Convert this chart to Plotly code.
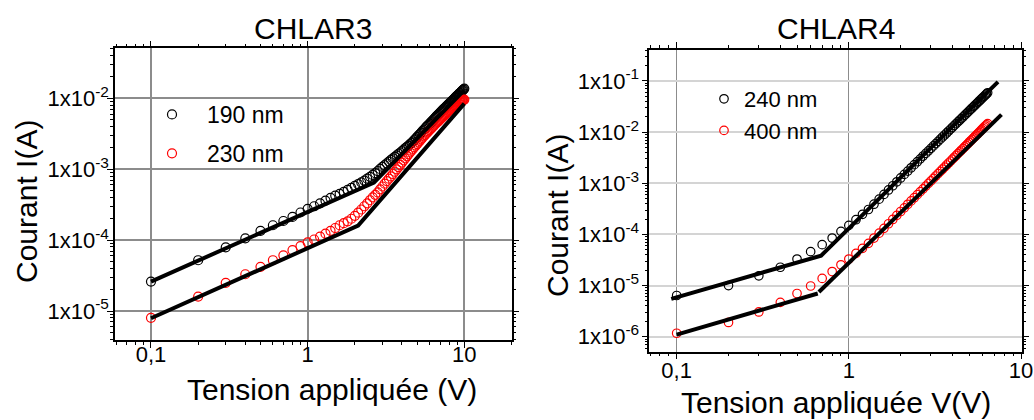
import math
import plotly.graph_objects as go

# ---------------- data ----------------
# CHLAR3
v3 = [round(0.1 * i, 1) for i in range(1, 101)]
i3_190 = [2.6e-5, 5.2e-5, 7.9e-5, 1.06e-4, 1.35e-4, 1.62e-4, 1.86e-4, 2.12e-4, 2.45e-4, 2.75e-4,
          3.0e-4, 3.3e-4, 3.6e-4, 3.95e-4, 4.25e-4, 4.5e-4, 4.8e-4, 5.1e-4, 5.45e-4, 5.8e-4,
          6.15e-4, 6.5e-4, 6.9e-4, 7.35e-4, 7.8e-4, 8.3e-4, 8.8e-4, 9.4e-4, 1.01e-3, 1.08e-3,
          1.14e-3, 1.21e-3, 1.28e-3, 1.35e-3, 1.42e-3, 1.49e-3, 1.57e-3, 1.65e-3, 1.72e-3, 1.8e-3,
          1.89e-3, 1.98e-3, 2.06e-3, 2.15e-3, 2.25e-3, 2.36e-3, 2.47e-3, 2.6e-3, 2.72e-3, 2.85e-3,
          2.99e-3, 3.13e-3, 3.28e-3, 3.44e-3, 3.6e-3, 3.75e-3, 3.91e-3, 4.07e-3, 4.23e-3, 4.4e-3,
          4.57e-3, 4.74e-3, 4.92e-3, 5.1e-3, 5.3e-3, 5.5e-3, 5.7e-3, 5.9e-3, 6.1e-3, 6.3e-3,
          6.5e-3, 6.7e-3, 6.9e-3, 7.1e-3, 7.3e-3, 7.5e-3, 7.75e-3, 7.95e-3, 8.2e-3, 8.4e-3,
          8.65e-3, 8.9e-3, 9.1e-3, 9.35e-3, 9.6e-3, 9.85e-3, 1.01e-2, 1.04e-2, 1.065e-2, 1.09e-2,
          1.12e-2, 1.14e-2, 1.17e-2, 1.19e-2, 1.22e-2, 1.25e-2, 1.28e-2, 1.31e-2, 1.34e-2, 1.37e-2]
i3_230 = [8.0e-6, 1.6e-5, 2.5e-5, 3.3e-5, 4.2e-5, 5.2e-5, 6.1e-5, 7.2e-5, 8.2e-5, 9.3e-5,
          1.02e-4, 1.12e-4, 1.23e-4, 1.35e-4, 1.48e-4, 1.62e-4, 1.73e-4, 1.84e-4, 2.0e-4, 2.2e-4,
          2.44e-4, 2.7e-4, 3.0e-4, 3.3e-4, 3.65e-4, 4.0e-4, 4.35e-4, 4.7e-4, 5.2e-4, 5.7e-4,
          6.25e-4, 6.8e-4, 7.35e-4, 7.9e-4, 8.55e-4, 9.2e-4, 9.95e-4, 1.07e-3, 1.15e-3, 1.24e-3,
          1.33e-3, 1.42e-3, 1.52e-3, 1.62e-3, 1.72e-3, 1.82e-3, 1.93e-3, 2.04e-3, 2.15e-3, 2.26e-3,
          2.38e-3, 2.51e-3, 2.63e-3, 2.77e-3, 2.9e-3, 3.03e-3, 3.16e-3, 3.29e-3, 3.42e-3, 3.55e-3,
          3.69e-3, 3.83e-3, 3.97e-3, 4.12e-3, 4.27e-3, 4.41e-3, 4.56e-3, 4.7e-3, 4.85e-3, 5.0e-3,
          5.16e-3, 5.32e-3, 5.48e-3, 5.64e-3, 5.8e-3, 5.98e-3, 6.16e-3, 6.34e-3, 6.52e-3, 6.7e-3,
          6.88e-3, 7.06e-3, 7.24e-3, 7.42e-3, 7.6e-3, 7.76e-3, 7.92e-3, 8.08e-3, 8.24e-3, 8.4e-3,
          8.52e-3, 8.64e-3, 8.76e-3, 8.88e-3, 9.0e-3, 9.12e-3, 9.24e-3, 9.36e-3, 9.48e-3, 9.6e-3]
fit3_190_v = [0.1, 2.65, 10]
fit3_190_i = [2.6e-5, 6.5e-4, 1.3e-2]
fit3_230_v = [0.1, 2.1, 10]
fit3_230_i = [7.9e-6, 1.6e-4, 8.4e-3]

# CHLAR4
v4 = [round(0.1 * i, 1) for i in range(1, 65)]
i4_240 = [6.4e-6, 1.0e-5, 1.55e-5, 2.28e-5, 3.3e-5, 4.6e-5, 6.3e-5, 8.5e-5, 1.15e-4, 1.5e-4,
          1.94e-4, 2.47e-4, 3.07e-4, 3.9e-4, 4.9e-4, 6.06e-4, 7.4e-4, 8.94e-4, 1.07e-3, 1.27e-3,
          1.49e-3, 1.73e-3, 2.01e-3, 2.31e-3, 2.64e-3, 3.01e-3, 3.41e-3, 3.84e-3, 4.31e-3, 4.82e-3,
          5.38e-3, 5.97e-3, 6.61e-3, 7.3e-3, 8.03e-3, 8.8e-3, 9.64e-3, 1.053e-2, 1.147e-2, 1.247e-2,
          1.352e-2, 1.464e-2, 1.583e-2, 1.708e-2, 1.839e-2, 1.978e-2, 2.123e-2, 2.275e-2, 2.436e-2, 2.604e-2,
          2.78e-2, 2.963e-2, 3.155e-2, 3.357e-2, 3.566e-2, 3.784e-2, 4.012e-2, 4.247e-2, 4.497e-2, 4.753e-2,
          5.016e-2, 5.294e-2, 5.58e-2, 5.881e-2]
i4_400 = [1.17e-6, 1.9e-6, 3.05e-6, 4.7e-6, 7.0e-6, 9.8e-6, 1.38e-5, 1.88e-5, 2.55e-5, 3.3e-5,
          4.25e-5, 5.35e-5, 6.7e-5, 8.5e-5, 1.06e-4, 1.315e-4, 1.616e-4, 1.963e-4, 2.36e-4, 2.808e-4,
          3.315e-4, 3.884e-4, 4.516e-4, 5.22e-4, 5.995e-4, 6.855e-4, 7.792e-4, 8.82e-4, 9.94e-4, 1.114e-3,
          1.247e-3, 1.388e-3, 1.541e-3, 1.706e-3, 1.883e-3, 2.072e-3, 2.275e-3, 2.49e-3, 2.72e-3, 2.965e-3,
          3.225e-3, 3.499e-3, 3.792e-3, 4.101e-3, 4.424e-3, 4.77e-3, 5.13e-3, 5.51e-3, 5.91e-3, 6.33e-3,
          6.77e-3, 7.23e-3, 7.72e-3, 8.23e-3, 8.76e-3, 9.31e-3, 9.89e-3, 1.049e-2, 1.112e-2, 1.177e-2,
          1.245e-2, 1.316e-2, 1.389e-2, 1.466e-2]
fit4_240_v = [0.093, 0.69, 7.35]
fit4_240_i = [5.5e-6, 3.85e-5, 9.6e-2]
fit4_400a_v = [0.1, 0.66]
fit4_400a_i = [1.1e-6, 7.0e-6]
fit4_400b_v = [0.67, 7.7]
fit4_400b_i = [7.5e-6, 2.2e-2]

x_tickvals = [0.1, 1, 10]
x_ticktext = ["0,1", "1", "10"]
y3_tickvals = [1e-5, 1e-4, 1e-3, 1e-2]
y4_tickvals = [1e-6, 1e-5, 1e-4, 1e-3, 1e-2, 1e-1]

# ---------------- figure ----------------
W, H = 1034, 420
FONT = "Liberation Sans, Arial, sans-serif"


def px_x(p):
    return p / W


def px_y(p):
    return 1 - p / H


def sup_labels(vals):
    return ["1x10<sup>%d</sup>" % int(round(math.log10(v))) for v in vals]


def minor_vals(lo, hi):
    return [m * 10.0 ** e for e in range(lo, hi) for m in range(2, 10)]


fig = go.Figure()

# CHLAR3
fig.add_trace(go.Scatter(x=v3, y=i3_190, mode="markers", name="190 nm",
                         marker=dict(symbol="circle-open", size=9, color="black", line=dict(width=1.2)),
                         xaxis="x", yaxis="y", legend="legend", legendgroup="a"))
fig.add_trace(go.Scatter(x=v3, y=i3_230, mode="markers", name="230 nm",
                         marker=dict(symbol="circle-open", size=9, color="red", line=dict(width=1.2)),
                         xaxis="x", yaxis="y", legend="legend", legendgroup="b"))
fig.add_trace(go.Scatter(x=fit3_190_v, y=fit3_190_i, mode="lines", showlegend=False,
                         line=dict(color="black", width=4), xaxis="x", yaxis="y"))
fig.add_trace(go.Scatter(x=fit3_230_v, y=fit3_230_i, mode="lines", showlegend=False,
                         line=dict(color="black", width=4), xaxis="x", yaxis="y"))

# CHLAR4
fig.add_trace(go.Scatter(x=v4, y=i4_240, mode="markers", name="240 nm",
                         marker=dict(symbol="circle-open", size=8.5, color="black", line=dict(width=1.2)),
                         xaxis="x2", yaxis="y2", legend="legend2"))
fig.add_trace(go.Scatter(x=v4, y=i4_400, mode="markers", name="400 nm",
                         marker=dict(symbol="circle-open", size=8.5, color="red", line=dict(width=1.2)),
                         xaxis="x2", yaxis="y2", legend="legend2"))
for vv, ii in [(fit4_240_v, fit4_240_i), (fit4_400a_v, fit4_400a_i), (fit4_400b_v, fit4_400b_i)]:
    fig.add_trace(go.Scatter(x=vv, y=ii, mode="lines", showlegend=False,
                             line=dict(color="black", width=4), xaxis="x2", yaxis="y2"))

tickfont = dict(family=FONT, size=22, color="black")
common = dict(type="log", showline=True, linecolor="black", linewidth=1.5, mirror="allticks",
              ticks="outside", ticklen=6, tickwidth=1.3, tickcolor="black", tickfont=tickfont,
              zeroline=False, automargin=False, tickmode="array")

fig.update_layout(
    template="none",
    width=W, height=H, margin=dict(l=0, r=0, t=0, b=0, pad=0, autoexpand=False),
    paper_bgcolor="white", plot_bgcolor="white",
    font=dict(family=FONT, color="black"),
    xaxis=dict(domain=[px_x(115), px_x(511.7)], anchor="y", range=[-1.2297, 1.3025],
               tickvals=x_tickvals, ticktext=x_ticktext,
               showgrid=True, gridcolor="#8c8c8c", gridwidth=1.5,
               minor=dict(tickmode="array", tickvals=minor_vals(-2, 2), ticks="outside",
                          ticklen=3, tickcolor="black", showgrid=False),
               ticklabelstandoff=-12, **common),
    yaxis=dict(domain=[px_y(340), px_y(48.3)], anchor="x", range=[-5.409, -1.295],
               tickvals=y3_tickvals, ticktext=sup_labels(y3_tickvals),
               showgrid=True, gridcolor="#8c8c8c", gridwidth=1.5,
               minor=dict(tickmode="array", tickvals=minor_vals(-6, -1), ticks="outside",
                          ticklen=3, tickcolor="black", showgrid=False),
               ticklabelstandoff=-6, **common),
    xaxis2=dict(domain=[px_x(649.3), px_x(1021.7)], anchor="y2", range=[-1.159, 1.004],
                tickvals=x_tickvals, ticktext=x_ticktext,
                showgrid=True, gridcolor="#8c8c8c", gridwidth=1,
                minor=dict(tickmode="array", tickvals=minor_vals(-2, 1), ticks="outside",
                           ticklen=3, tickcolor="black", showgrid=False),
                ticklabelstandoff=-8, **common),
    yaxis2=dict(domain=[px_y(351.7), px_y(50)], anchor="x2", range=[-6.293, -0.394],
                tickvals=y4_tickvals, ticktext=sup_labels(y4_tickvals),
                showgrid=True, gridcolor="#d4d4d4", gridwidth=2,
                minor=dict(tickmode="array", tickvals=minor_vals(-7, 0), ticks="outside",
                           ticklen=3, tickcolor="black", showgrid=False),
                ticklabelstandoff=-2, **common),
    legend=dict(x=px_x(137), y=px_y(93), xanchor="left", yanchor="top",
                bgcolor="rgba(0,0,0,0)", font=dict(family=FONT, size=23, color="black"),
                tracegroupgap=6, itemwidth=60),
    legend2=dict(x=px_x(704), y=px_y(78), xanchor="left", yanchor="top",
                 bgcolor="rgba(0,0,0,0)", font=dict(family=FONT, size=22, color="black")),
    showlegend=True,
)

ann_font = dict(family=FONT, size=30, color="black")
annotations = [
    dict(text="CHLAR3", x=px_x(313), y=px_y(29), xanchor="center", yanchor="middle"),
    dict(text="CHLAR4", x=px_x(836), y=px_y(29), xanchor="center", yanchor="middle"),
    dict(text="Tension appliquée (V)", x=px_x(332), y=px_y(389), xanchor="center", yanchor="middle"),
    dict(text="Tension appliquée V(V)", x=px_x(836), y=px_y(402), xanchor="center", yanchor="middle"),
    dict(text="Courant I(A)", x=px_x(26), y=px_y(202), xanchor="center", yanchor="middle", textangle=-90),
    dict(text="Courant I(A)", x=px_x(558), y=px_y(216), xanchor="center", yanchor="middle", textangle=-90),
]
for a in annotations:
    a.update(xref="paper", yref="paper", showarrow=False, font=ann_font)
fig.update_layout(annotations=annotations)

fig.write_html("out.html", config={"displayModeBar": False},
               post_script="document.body.style.margin='0';document.body.style.padding='0';"
                           "document.documentElement.style.overflow='hidden';")
